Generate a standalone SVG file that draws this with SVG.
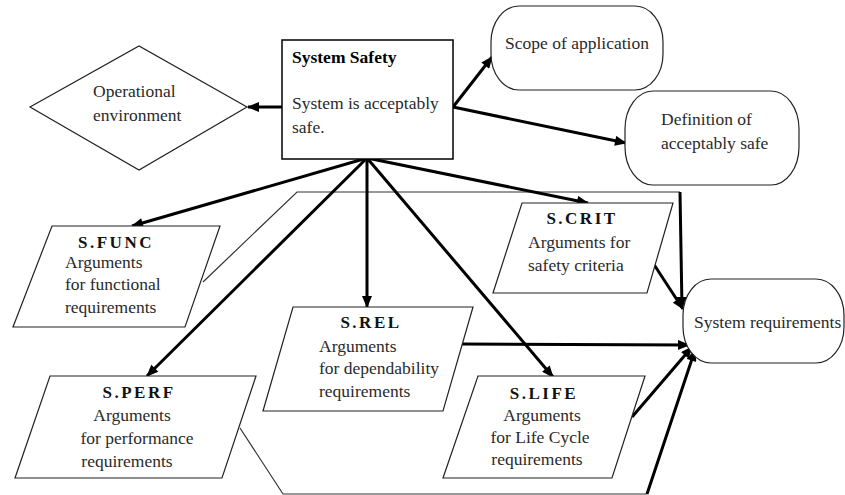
<svg xmlns="http://www.w3.org/2000/svg" width="845" height="495" viewBox="0 0 845 495">
<defs>
<marker id="ah" viewBox="0 0 12 10" refX="11" refY="5" markerWidth="13" markerHeight="10" markerUnits="userSpaceOnUse" orient="auto">
<path d="M0,0 L12,5 L0,10 z" fill="#000"/>
</marker>
</defs>
<style>
.t{font-family:serif;font-size:17.5px;fill:#2a2a2a}
.b{font-family:serif;font-size:17.5px;font-weight:bold;fill:#000}
.lab{font-family:serif;font-size:17px;font-weight:bold;letter-spacing:2.5px;fill:#111}
.shape{fill:#fff;stroke:#222;stroke-width:1.2}
.thin{fill:none;stroke:#333;stroke-width:1.2}
.arr{fill:none;stroke:#000;stroke-width:3;marker-end:url(#ah)}
</style>
<rect width="845" height="495" fill="#fff"/>

<g id="background-outline">
<polyline class="thin" points="203,282 297,192 680,192"/>
<polyline class="thin" points="240,428 283,494 647,494"/>
</g>

<g id="connectors">
<line class="arr" x1="282" y1="107" x2="248" y2="107"/>
<line class="arr" x1="453" y1="107" x2="492" y2="57"/>
<line class="arr" x1="453" y1="107" x2="626" y2="143"/>
<line class="arr" x1="367" y1="158" x2="132" y2="226"/>
<line class="arr" x1="367" y1="158" x2="147" y2="376"/>
<line class="arr" x1="367" y1="158" x2="367" y2="307"/>
<line class="arr" x1="367" y1="158" x2="553" y2="377"/>
<line class="arr" x1="367" y1="158" x2="588" y2="203"/>
<polyline class="arr" points="680,192 682,308"/>
<line class="arr" x1="653" y1="263" x2="683" y2="309"/>
<line class="arr" x1="460" y1="344" x2="689" y2="345"/>
<line class="arr" x1="632" y1="417" x2="692" y2="347"/>
<line class="arr" x1="647" y1="494" x2="695" y2="350"/>
</g>

<g id="system-safety">
<rect class="shape" x="282" y="40" width="171" height="119" style="stroke:#000;stroke-width:1.5"/>
<text class="b" x="292" y="63" font-family="Liberation Serif, Times New Roman, serif">System Safety</text>
<text class="t" x="292" y="109" font-family="Liberation Serif, Times New Roman, serif">System is acceptably</text>
<text class="t" x="292" y="133" font-family="Liberation Serif, Times New Roman, serif">safe.</text>
</g>

<g id="operational-environment">
<polygon class="shape" points="30,107 139,46 247,107 139,170"/>
<text class="t" x="93" y="97" font-family="Liberation Serif, Times New Roman, serif">Operational</text>
<text class="t" x="93" y="121" font-family="Liberation Serif, Times New Roman, serif">environment</text>
</g>

<g id="scope-of-application">
<rect class="shape" x="491" y="6" width="172" height="84" rx="28" ry="36"/>
<text class="t" x="577" y="49" text-anchor="middle" font-family="Liberation Serif, Times New Roman, serif">Scope of application</text>
</g>

<g id="definition-acceptably-safe">
<rect class="shape" x="625" y="91" width="174" height="94" rx="28" ry="38"/>
<text class="t" x="661" y="125" font-family="Liberation Serif, Times New Roman, serif">Definition of</text>
<text class="t" x="661" y="149" font-family="Liberation Serif, Times New Roman, serif">acceptably safe</text>
</g>

<g id="s-func">
<polygon class="shape" points="52,226 220,226 185,327 13,327"/>
<text class="lab" x="116" y="248" text-anchor="middle" font-family="Liberation Serif, Times New Roman, serif">S.FUNC</text>
<text class="t" x="65" y="268" font-family="Liberation Serif, Times New Roman, serif">Arguments</text>
<text class="t" x="65" y="290" font-family="Liberation Serif, Times New Roman, serif">for functional</text>
<text class="t" x="65" y="313" font-family="Liberation Serif, Times New Roman, serif">requirements</text>
</g>

<g id="s-perf">
<polygon class="shape" points="50,376 256,376 222,478 15,478"/>
<text class="lab" x="139" y="398" text-anchor="middle" font-family="Liberation Serif, Times New Roman, serif">S.PERF</text>
<text class="t" x="132" y="421" text-anchor="middle" font-family="Liberation Serif, Times New Roman, serif">Arguments</text>
<text class="t" x="137" y="444" text-anchor="middle" font-family="Liberation Serif, Times New Roman, serif">for performance</text>
<text class="t" x="127" y="467" text-anchor="middle" font-family="Liberation Serif, Times New Roman, serif">requirements</text>
</g>

<g id="s-rel">
<polygon class="shape" points="293,307 473,307 443,411 263,411"/>
<text class="lab" x="371" y="328" text-anchor="middle" font-family="Liberation Serif, Times New Roman, serif">S.REL</text>
<text class="t" x="319" y="352" font-family="Liberation Serif, Times New Roman, serif">Arguments</text>
<text class="t" x="319" y="374" font-family="Liberation Serif, Times New Roman, serif">for dependability</text>
<text class="t" x="319" y="397" font-family="Liberation Serif, Times New Roman, serif">requirements</text>
</g>

<g id="s-crit">
<polygon class="shape" points="522,203 673,203 647,293 493,293"/>
<text class="lab" x="582" y="224" text-anchor="middle" font-family="Liberation Serif, Times New Roman, serif">S.CRIT</text>
<text class="t" x="528" y="248" font-family="Liberation Serif, Times New Roman, serif">Arguments for</text>
<text class="t" x="528" y="271" font-family="Liberation Serif, Times New Roman, serif">safety criteria</text>
</g>

<g id="s-life">
<polygon class="shape" points="478,376 645,376 612,478 443,478"/>
<text class="lab" x="544" y="399" text-anchor="middle" font-family="Liberation Serif, Times New Roman, serif">S.LIFE</text>
<text class="t" x="542" y="421" text-anchor="middle" font-family="Liberation Serif, Times New Roman, serif">Arguments</text>
<text class="t" x="540" y="443" text-anchor="middle" font-family="Liberation Serif, Times New Roman, serif">for Life Cycle</text>
<text class="t" x="537" y="465" text-anchor="middle" font-family="Liberation Serif, Times New Roman, serif">requirements</text>
</g>

<g id="system-requirements">
<rect class="shape" x="683" y="279" width="161" height="84" rx="28" ry="36"/>
<text class="t" x="694" y="328" font-family="Liberation Serif, Times New Roman, serif">System requirements</text>
</g>
</svg>
